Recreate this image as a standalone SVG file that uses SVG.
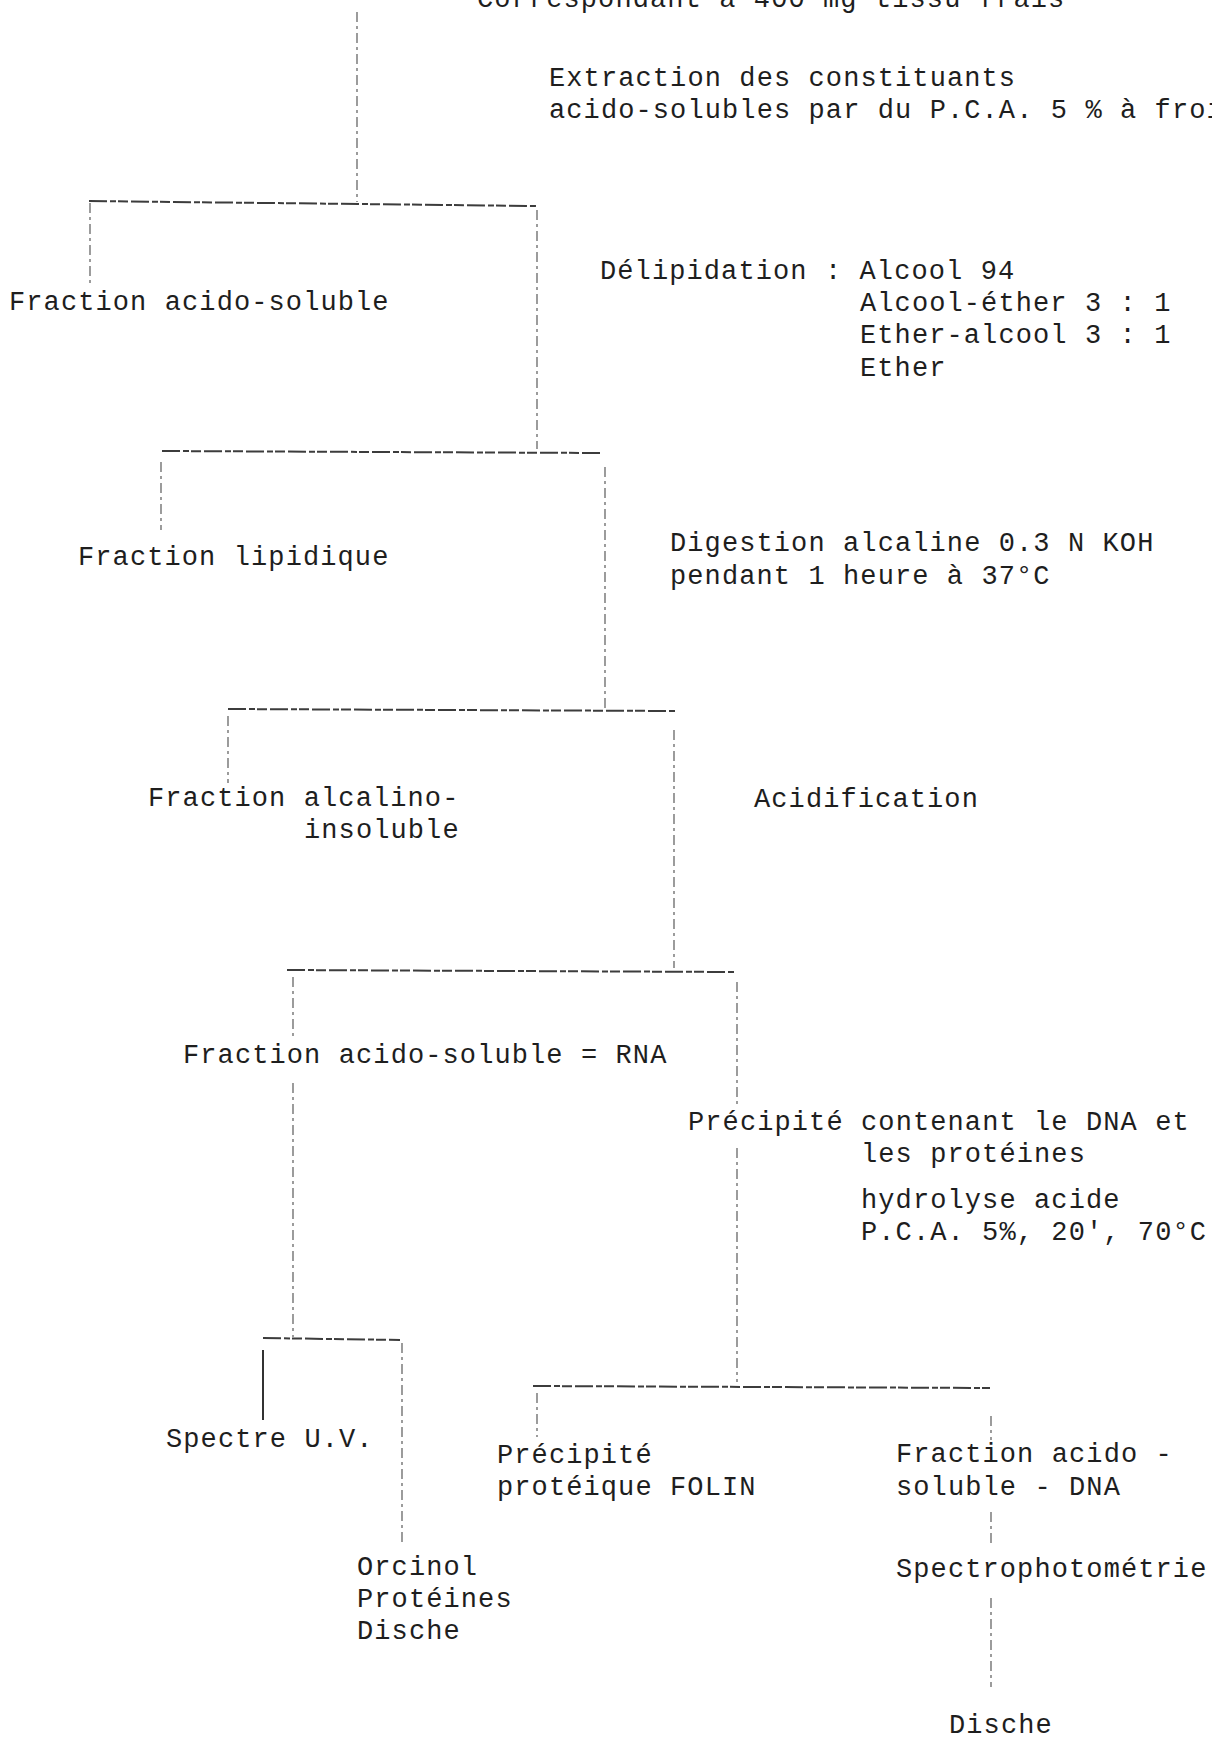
<svg xmlns="http://www.w3.org/2000/svg" width="1212" height="1740" viewBox="0 0 1212 1740">
<style>
text{font-family:"Liberation Mono","DejaVu Sans Mono",monospace;font-size:27px;letter-spacing:1.1px;fill:#1e1e1e}
.h{stroke:#3c3c3c;stroke-width:2;fill:none;stroke-dasharray:18 3 6 2 10 3}
.v{stroke:#5a5a5a;stroke-width:1.2;fill:none;stroke-dasharray:10 4 3 4}
.vb{stroke:#333;stroke-width:2;fill:none}
</style>
<rect width="1212" height="1740" fill="#fff"/>
<g id="connectors">
<path class="v" d="M357 12V202"/>
<path class="h" d="M89 201L536 206"/>
<path class="v" d="M90 203V285"/>
<path class="v" d="M537 210V449"/>
<path class="h" d="M162 451L600 453"/>
<path class="v" d="M161 462V530"/>
<path class="v" d="M605 467V708"/>
<path class="h" d="M228 709L676 711"/>
<path class="v" d="M228 716V783"/>
<path class="v" d="M674 730V968"/>
<path class="h" d="M287 970L734 972"/>
<path class="v" d="M293 977V1040M293 1083V1337"/>
<path class="v" d="M737 982V1107M737 1148V1382"/>
<path class="h" d="M263 1338L400 1340"/>
<path class="vb" d="M263 1350V1420"/>
<path class="v" d="M402 1343V1545"/>
<path class="h" d="M533 1386L990 1388"/>
<path class="v" d="M537 1393V1437"/>
<path class="v" d="M991 1416V1440"/>
<path class="v" d="M991 1512V1547"/>
<path class="v" d="M991 1598V1687"/>
</g>
<g id="n-source"><text x="477" y="7">Correspondant à 400 mg tissu frais</text></g>
<g id="n-extraction"><text x="549" y="86">Extraction des constituants</text><text x="549" y="118">acido-solubles par du P.C.A. 5 % à froid</text></g>
<g id="n-fraction-acido-soluble"><text x="9" y="310">Fraction acido-soluble</text></g>
<g id="n-delipidation"><text x="600" y="279">Délipidation : Alcool 94</text><text x="860" y="311">Alcool-éther 3 : 1</text><text x="860" y="343">Ether-alcool 3 : 1</text><text x="860" y="376">Ether</text></g>
<g id="n-fraction-lipidique"><text x="78" y="565">Fraction lipidique</text></g>
<g id="n-digestion"><text x="670" y="551">Digestion alcaline 0.3 N KOH</text><text x="670" y="584">pendant 1 heure à 37°C</text></g>
<g id="n-alcalino-insoluble"><text x="148" y="806">Fraction alcalino-</text><text x="304" y="838">insoluble</text></g>
<g id="n-acidification"><text x="754" y="807">Acidification</text></g>
<g id="n-rna"><text x="183" y="1063">Fraction acido-soluble = RNA</text></g>
<g id="n-precipite-dna"><text x="688" y="1130">Précipité contenant le DNA et</text><text x="861" y="1162">les protéines</text></g>
<g id="n-hydrolyse"><text x="861" y="1208">hydrolyse acide</text><text x="861" y="1240">P.C.A. 5%, 20', 70°C</text></g>
<g id="n-spectre-uv"><text x="166" y="1447">Spectre U.V.</text></g>
<g id="n-precipite-proteique"><text x="497" y="1463">Précipité</text><text x="497" y="1495">protéique FOLIN</text></g>
<g id="n-fraction-dna"><text x="896" y="1462">Fraction acido -</text><text x="896" y="1495">soluble - DNA</text></g>
<g id="n-orcinol"><text x="357" y="1575">Orcinol</text><text x="357" y="1607">Protéines</text><text x="357" y="1639">Dische</text></g>
<g id="n-spectrophotometrie"><text x="896" y="1577">Spectrophotométrie</text></g>
<g id="n-dische"><text x="949" y="1733">Dische</text></g>
</svg>
